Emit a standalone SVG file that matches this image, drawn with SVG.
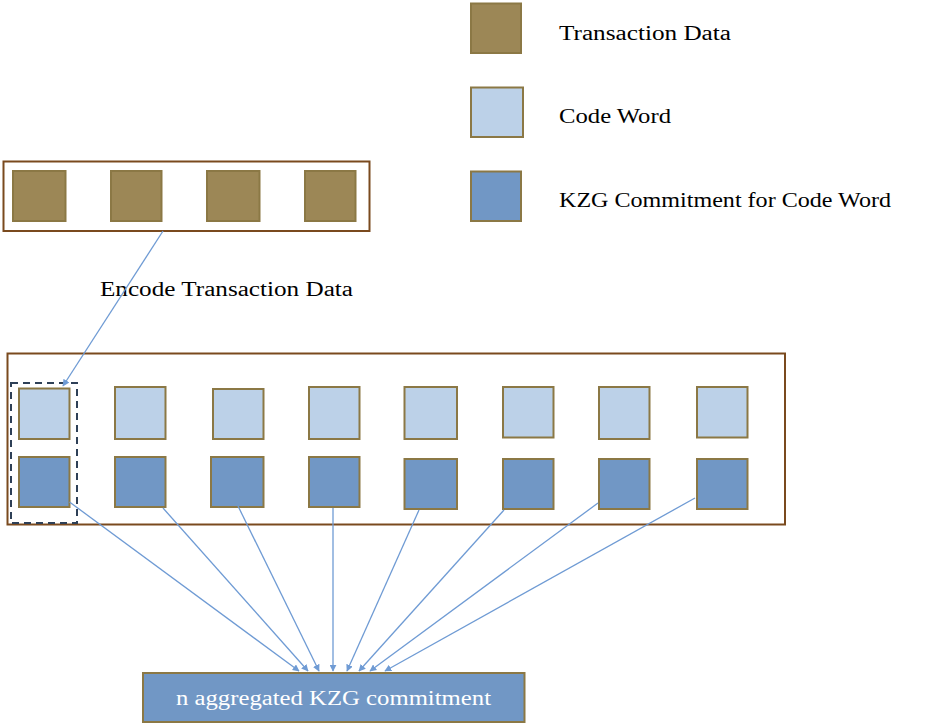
<svg xmlns="http://www.w3.org/2000/svg" width="944" height="726" viewBox="0 0 944 726">
<defs>
<style>
.t{font-family:"Liberation Serif","DejaVu Serif",serif;font-size:20px;fill:#000}
.frame{fill:none;stroke:#7a4a1e;stroke-width:2}
.td{fill:#9c8756;stroke:#8b7845;stroke-width:2}
.cw{fill:#bcd1e8;stroke:#8b7845;stroke-width:2}
.kz{fill:#7197c5;stroke:#8b7845;stroke-width:2}
.ln{stroke:#6f9bd4;stroke-width:1.3;fill:none;marker-end:url(#ah)}
</style>
<marker id="ah" viewBox="0 0 10 10" refX="9" refY="5" markerWidth="7" markerHeight="7" orient="auto" markerUnits="userSpaceOnUse">
<path d="M0,0 L10,5 L0,10 z" fill="#6f9bd4"/>
</marker>
</defs>
<rect width="944" height="726" fill="#fff"/>

<g id="legend">
<rect class="td" x="471" y="3.5" width="50" height="49.5"/>
<text class="t" x="559" y="40" textLength="172" lengthAdjust="spacingAndGlyphs">Transaction Data</text>
<rect class="cw" x="471" y="87.5" width="52" height="49.5"/>
<text class="t" x="559" y="123" textLength="112" lengthAdjust="spacingAndGlyphs">Code Word</text>
<rect class="kz" x="471" y="171.5" width="50" height="49.5"/>
<text class="t" x="559" y="207" textLength="332" lengthAdjust="spacingAndGlyphs">KZG Commitment for Code Word</text>
</g>

<g id="transaction-data">
<rect class="frame" x="3.5" y="161.5" width="366" height="69.5"/>
<rect class="td" x="13" y="171" width="52.5" height="50"/>
<rect class="td" x="111" y="171" width="50.5" height="50"/>
<rect class="td" x="207" y="171" width="52.5" height="50"/>
<rect class="td" x="305" y="171" width="50.5" height="50"/>
</g>

<g id="encode-label">
<text class="t" x="100" y="296" textLength="253" lengthAdjust="spacingAndGlyphs">Encode Transaction Data</text>
</g>

<g id="code-words">
<rect class="frame" x="7.5" y="353.5" width="777.5" height="171"/>
<rect x="11" y="383" width="66" height="140" fill="none" stroke="#2e4057" stroke-width="2" stroke-dasharray="7,5"/>
<rect class="cw" x="19" y="388.5" width="50.5" height="50.5"/>
<rect class="cw" x="115" y="387" width="50.5" height="52"/>
<rect class="cw" x="213" y="389" width="50.5" height="50"/>
<rect class="cw" x="309" y="387" width="50.5" height="52"/>
<rect class="cw" x="404.5" y="387" width="52.5" height="52"/>
<rect class="cw" x="503" y="387" width="50.5" height="50.5"/>
<rect class="cw" x="599" y="387" width="50.5" height="52"/>
<rect class="cw" x="697" y="387" width="50.5" height="50.5"/>
</g>

<g id="kzg-commitments">
<rect class="kz" x="19" y="457" width="50.5" height="50"/>
<rect class="kz" x="115" y="457" width="50.5" height="50"/>
<rect class="kz" x="211" y="457" width="52.5" height="50"/>
<rect class="kz" x="309" y="457" width="50.5" height="50"/>
<rect class="kz" x="404.5" y="459" width="52.5" height="50"/>
<rect class="kz" x="503" y="459" width="50.5" height="50"/>
<rect class="kz" x="599" y="459" width="50.5" height="50"/>
<rect class="kz" x="697" y="459" width="50.5" height="50"/>
</g>

<g id="aggregated">
<rect x="143" y="673" width="381.5" height="49" fill="#7197c5" stroke="#8b7845" stroke-width="2"/>
<text class="t" x="176" y="705" fill="#fff" style="fill:#fff" textLength="315" lengthAdjust="spacingAndGlyphs">n aggregated KZG commitment</text>
</g>

<g id="connectors">
<line class="ln" x1="163" y1="231" x2="63" y2="386"/>
<line class="ln" x1="69.5" y1="502" x2="299" y2="671"/>
<line class="ln" x1="163" y1="508" x2="308" y2="671"/>
<line class="ln" x1="238" y1="506" x2="319" y2="671"/>
<line class="ln" x1="333" y1="508" x2="333" y2="671"/>
<line class="ln" x1="419" y1="510" x2="347" y2="671"/>
<line class="ln" x1="504" y1="510" x2="359" y2="671"/>
<line class="ln" x1="598" y1="503" x2="370" y2="671"/>
<line class="ln" x1="695" y1="498" x2="385" y2="671"/>
</g>
</svg>
